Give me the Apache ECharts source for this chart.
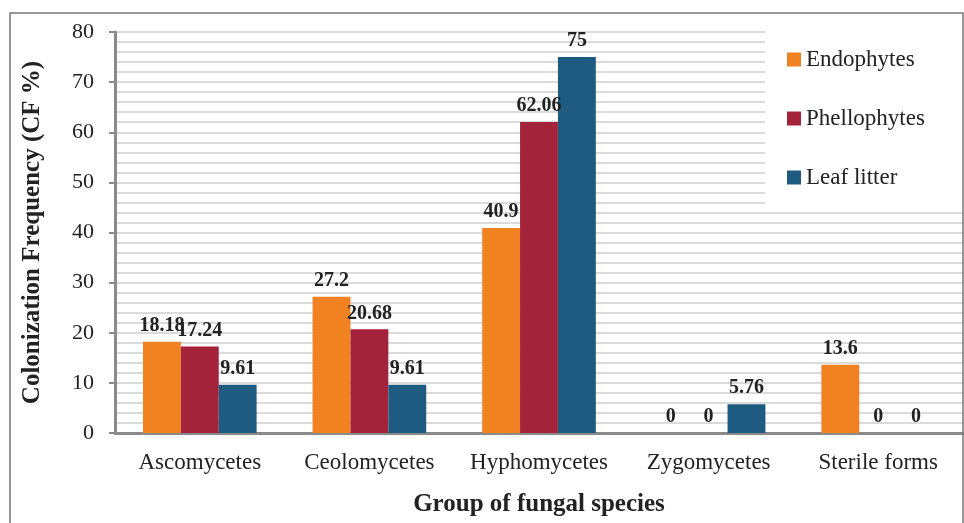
<!DOCTYPE html>
<html>
<head>
<meta charset="utf-8">
<script src="https://cdn.jsdelivr.net/npm/echarts@6/dist/echarts.min.js"></script>
<style>
  html, body { margin: 0; padding: 0; background: #fff; }
  #chart { width: 964px; height: 523px; }
</style>
</head>
<body>
<div id="chart"></div>
<script>
    // --- data ---
    const groups = ['Ascomycetes', 'Ceolomycetes', 'Hyphomycetes', 'Zygomycetes', 'Sterile forms'];
    const endophytes = [18.18, 27.2, 40.9, 0, 13.6];
    const phellophytes = [17.24, 20.68, 62.06, 0, 0];
    const leafLitter = [9.61, 9.61, 75, 5.76, 0];
    const yTicks = [0, 80, 10];   // min, max, step

    const serif = '"Liberation Serif", "DejaVu Serif", serif';

    const chart = echarts.init(document.getElementById('chart'));

    const labelStyle = {
        show: true, position: 'top', distance: 6,
        fontFamily: serif, fontWeight: 'bold', fontSize: 20, color: '#222'
    };

    function barSeries(name, data, color) {
        return {
            name: name, type: 'bar', data: data,
            barGap: '0%', barCategoryGap: '33%',
            itemStyle: { color: color },
            label: labelStyle
        };
    }

    chart.setOption({
        animation: false,
        grid: { left: 115, right: 1, top: 32, bottom: 90, outerBoundsMode: 'none', containLabel: false },
        graphic: [{
            type: 'rect', z: 100,
            shape: { x: 10, y: 13, width: 953, height: 530 },
            style: { fill: 'none', stroke: '#777', lineWidth: 1.5 }
        }],
        legend: {
            orient: 'vertical', left: 765, top: 14,
            backgroundColor: '#fff',
            padding: [34, 50, 18, 22],
            itemWidth: 14, itemHeight: 14, itemGap: 36,
            icon: 'rect',
            textStyle: { fontFamily: serif, fontSize: 23, color: '#222' },
            data: ['Endophytes', 'Phellophytes', 'Leaf litter']
        },
        xAxis: {
            type: 'category', data: groups,
            name: 'Group of fungal species', nameLocation: 'middle', nameGap: 59,
            nameTextStyle: { fontFamily: serif, fontWeight: 'bold', fontSize: 25, color: '#222' },
            axisLine: { lineStyle: { color: '#8a8a8a', width: 3 } },
            axisTick: { show: false },
            axisLabel: { interval: 0, fontFamily: serif, fontSize: 23, color: '#222', margin: 18 }
        },
        yAxis: {
            type: 'value', min: yTicks[0], max: yTicks[1], interval: yTicks[2],
            name: 'Colonization Frequency (CF %)', nameLocation: 'middle', nameGap: 70,
            nameTextStyle: { fontFamily: serif, fontWeight: 'bold', fontSize: 25, color: '#222' },
            axisLine: { show: true, lineStyle: { color: '#8a8a8a', width: 3 } },
            axisTick: { show: true, length: 6, lineStyle: { color: '#8a8a8a', width: 2 } },
            axisLabel: { fontFamily: serif, fontSize: 22, color: '#222', margin: 21 },
            splitLine: { lineStyle: { color: '#cfcfcf', width: 1.5 } },
            minorTick: { show: false, splitNumber: 5 },
            minorSplitLine: { show: true, lineStyle: { color: '#cfcfcf', width: 1.5 } }
        },
        series: [
            barSeries('Endophytes', endophytes, '#f08221'),
            barSeries('Phellophytes', phellophytes, '#a2233a'),
            barSeries('Leaf litter', leafLitter, '#1f5a80')
        ]
    });
</script>
</body>
</html>
